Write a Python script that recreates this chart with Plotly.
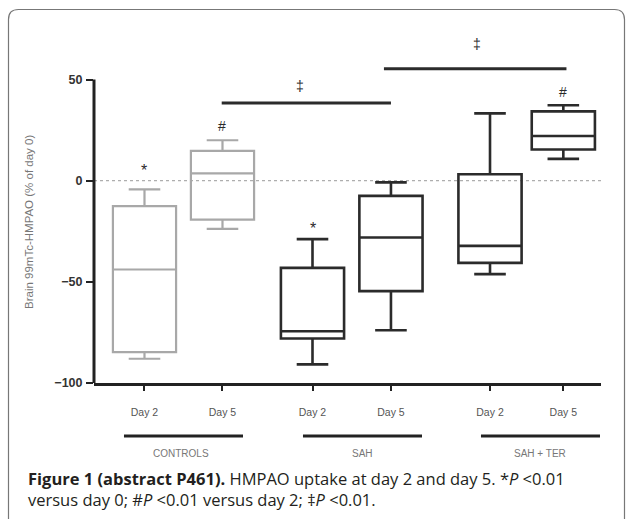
import plotly.graph_objects as go

# values (% of day 0)
groups = ["CONTROLS", "SAH", "SAH + TER"]
days = ["Day 2", "Day 5", "Day 2", "Day 5", "Day 2", "Day 5"]
lower = [-88.0, -23.8, -90.8, -73.9, -46.2, 10.8]
q1 = [-84.7, -19.2, -78.0, -54.6, -40.6, 15.4]
median = [-43.9, 3.6, -74.4, -28.1, -32.2, 22.1]
q3 = [-12.6, 14.8, -43.1, -7.5, 3.2, 34.3]
upper = [-4.3, 20.0, -28.9, -0.8, 33.3, 37.3]
marks = ["*", "#", "*", "", "", "#"]
mark_y = [5.2, 26.9, -23.8, None, None, 43.9]
sig_from = [1.99, 4.07]
sig_to = [4.16, 6.41]
sig_y = [38.4, 55.4]
sig_label_x = [2.99, 5.26]
sig_label_y = [46.7, 67.4]

# layout helpers
xpos = [1.0, 2.0, 3.154, 4.16, 5.43, 6.37]
group_x = [1.468, 3.79, 6.07]
group_bar = [(0.737, 2.263), (3.032, 4.558), (5.314, 6.84)]
W, H = 626, 519
L, R, T, B = 94, 25, 29, 136
PW, PH = W - L - R, H - T - B


def px(x):
    return (x - L) / PW


def py(y):
    return (H - B - y) / PH


GRAY = "#a8a8a8"
DARK = "#2b2b2b"
FONT = "Liberation Sans"

fig = go.Figure()
colors = [GRAY, GRAY, DARK, DARK, DARK, DARK]
for i in range(6):
    fig.add_trace(go.Box(
        x=[xpos[i]], q1=[q1[i]], median=[median[i]], q3=[q3[i]],
        lowerfence=[lower[i]], upperfence=[upper[i]],
        width=0.81, whiskerwidth=0.5,
        line=dict(color=colors[i], width=2.2 if i < 2 else 2.6),
        fillcolor="rgba(0,0,0,0)", showlegend=False, hoverinfo="skip",
    ))

for a, b, y in zip(sig_from, sig_to, sig_y):
    fig.add_trace(go.Scatter(x=[a, b], y=[y, y], mode="lines",
                             line=dict(color=DARK, width=3),
                             showlegend=False, hoverinfo="skip"))

ann = []
for i, m in enumerate(marks):
    if m:
        ann.append(dict(x=xpos[i], y=mark_y[i], xref="x", yref="y", text=m,
                        xanchor="center", yanchor="middle", showarrow=False,
                        font=dict(family=FONT, size=16 if m == "*" else 14, color=DARK)))
for x, y in zip(sig_label_x, sig_label_y):
    ann.append(dict(x=x, y=y, xref="x", yref="y", text="‡", showarrow=False,
                    xanchor="center", yanchor="middle",
                    font=dict(family=FONT, size=14, color=DARK)))
for g, x in zip(groups, group_x):
    ann.append(dict(x=x, y=py(453), xref="x", yref="paper", text=g, showarrow=False,
                    xanchor="center", yanchor="middle",
                    font=dict(family=FONT, size=10, color="#777")))
ann.append(dict(x=px(29), y=py(222), xref="paper", yref="paper", textangle=-90,
                xanchor="center", yanchor="middle",
                text="Brain 99mTc-HMPAO (% of day 0)", showarrow=False,
                font=dict(family=FONT, size=11.5, color="#777")))
ann.append(dict(x=px(26), y=py(489.5), xref="paper", yref="paper", xanchor="left",
                yanchor="middle", align="left", showarrow=False,
                text="<b>Figure 1 (abstract P461).</b> HMPAO uptake at day 2 and day 5. *<i>P</i> &lt;0.01"
                     "<br>versus day 0; #<i>P</i> &lt;0.01 versus day 2; ‡<i>P</i> &lt;0.01.",
                font=dict(family="Open Sans", size=16.5, color="#231f20")))

shapes = [
    dict(type="line", xref="paper", yref="y", x0=0, x1=1, y0=0, y1=0, layer="below",
         line=dict(color="#9a9a9a", width=1, dash="dot")),
    dict(type="line", xref="paper", yref="y", x0=0, x1=0, y0=-100, y1=50,
         line=dict(color="#222", width=3)),
]
for a, b in group_bar:
    shapes.append(dict(type="line", xref="x", yref="paper", x0=a, x1=b,
                       y0=py(436), y1=py(436), line=dict(color="#222", width=3)))

# rounded frame around the figure
r = 10
x0, y0, x1, y1 = 8.5, 9.5, 624.5, 540
frame = (f"M {px(x0)},{py(y1)} L {px(x0)},{py(y0 + r)} "
         f"Q {px(x0)},{py(y0)} {px(x0 + r)},{py(y0)} "
         f"L {px(x1 - r)},{py(y0)} Q {px(x1)},{py(y0)} {px(x1)},{py(y0 + r)} "
         f"L {px(x1)},{py(y1)}")
shapes.append(dict(type="path", xref="paper", yref="paper", path=frame,
                   line=dict(color="#777", width=1.2)))

fig.update_layout(
    width=W, height=H, margin=dict(l=L, r=R, t=T, b=B),
    paper_bgcolor="white", plot_bgcolor="white",
    boxmode="overlay", showlegend=False,
    annotations=ann, shapes=shapes,
    xaxis=dict(range=[0.3526, 6.853], showgrid=False, zeroline=False,
               showline=True, linewidth=3, linecolor="#222",
               ticks="outside", ticklen=5, tickwidth=2, tickcolor="#222",
               tickvals=xpos, ticktext=days, ticklabelstandoff=12,
               tickfont=dict(family=FONT, size=10.5, color="#555")),
    yaxis=dict(range=[-100, 75], showgrid=False, zeroline=False, showline=False,
               ticks="outside", ticklen=7, tickwidth=2, tickcolor="#222",
               tickvals=[-100, -50, 0, 50], ticklabelstandoff=1,
               tickfont=dict(family=FONT, size=12.5, color="#333", weight="bold")),
)

fig.write_html("out.html", config={"displayModeBar": False},
               post_script="document.body.style.margin='0px';")
